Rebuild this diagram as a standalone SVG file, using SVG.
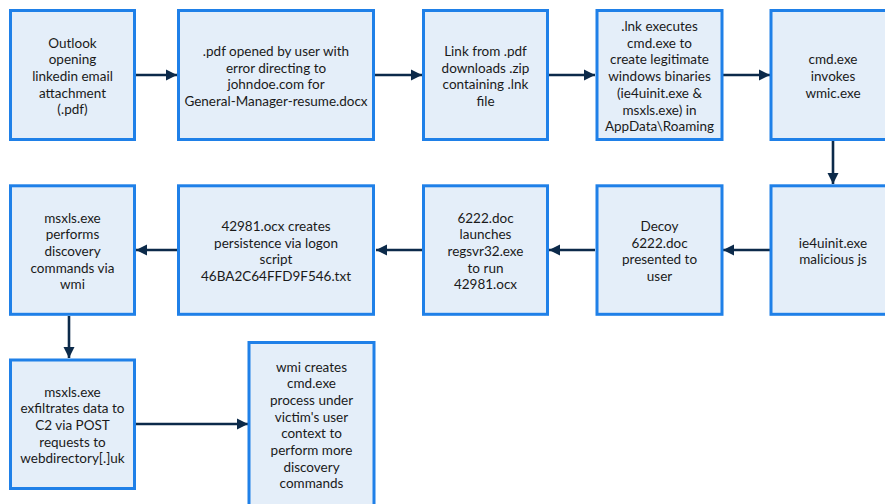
<svg xmlns="http://www.w3.org/2000/svg" width="885" height="504" viewBox="0 0 885 504">
<defs>
<style>
.box{fill:#e4eef9;stroke:#1f80e8;stroke-width:3}
.lbl{font-family:Lato,"Open Sans","Liberation Sans",sans-serif;font-size:13.5px;fill:#1a1a1a;text-anchor:middle}
.con{stroke:#0c2a4a;stroke-width:2.6;fill:none;marker-end:url(#ah)}
</style>
<marker id="ah" markerUnits="userSpaceOnUse" markerWidth="12" markerHeight="12" viewBox="0 0 12 12" refX="11" refY="6" orient="auto">
<path d="M0,0.5 L11,6 L0,11.5 Z" fill="#0c2a4a"/>
</marker>
</defs>
<rect width="885" height="504" fill="#ffffff"/>
<g id="connectors">
<line class="con" x1="136" y1="75" x2="177" y2="75"/>
<line class="con" x1="375" y1="75" x2="422" y2="75"/>
<line class="con" x1="549" y1="75" x2="595" y2="75"/>
<line class="con" x1="723" y1="75" x2="770" y2="75"/>
<line class="con" x1="833" y1="141" x2="833" y2="184"/>
<line class="con" x1="770" y1="250" x2="723" y2="250"/>
<line class="con" x1="595" y1="250" x2="549" y2="250"/>
<line class="con" x1="422" y1="250" x2="376" y2="250"/>
<line class="con" x1="177" y1="250" x2="136" y2="250"/>
<line class="con" x1="69" y1="316" x2="69" y2="358"/>
<line class="con" x1="136" y1="424" x2="248" y2="424"/>
</g>
<g id="n1">
<rect class="box" x="10.5" y="10.5" width="124" height="129"/>
<text class="lbl" x="72.5" y="47.5"><tspan x="72.5">Outlook</tspan><tspan x="72.5" dy="16.7">opening</tspan><tspan x="72.5" dy="16.7">linkedin email</tspan><tspan x="72.5" dy="16.7">attachment</tspan><tspan x="72.5" dy="16.7">(.pdf)</tspan></text>
</g>
<g id="n2">
<rect class="box" x="178.5" y="10.5" width="195" height="129"/>
<text class="lbl" x="276" y="56"><tspan x="276">.pdf opened by user with</tspan><tspan x="276" dy="16.7">error directing to</tspan><tspan x="276" dy="16.7">johndoe.com for</tspan><tspan x="276" dy="16.7">General-Manager-resume.docx</tspan></text>
</g>
<g id="n3">
<rect class="box" x="423.5" y="10.5" width="124" height="129"/>
<text class="lbl" x="485.5" y="56"><tspan x="485.5">Link from .pdf</tspan><tspan x="485.5" dy="16.7">downloads .zip</tspan><tspan x="485.5" dy="16.7">containing .lnk</tspan><tspan x="485.5" dy="16.7">file</tspan></text>
</g>
<g id="n4">
<rect class="box" x="597" y="10.5" width="125" height="129"/>
<text class="lbl" x="659.5" y="31"><tspan x="659.5">.lnk executes</tspan><tspan x="659.5" dy="16.7">cmd.exe to</tspan><tspan x="659.5" dy="16.7">create legitimate</tspan><tspan x="659.5" dy="16.7">windows binaries</tspan><tspan x="659.5" dy="16.7">(ie4uinit.exe &amp;</tspan><tspan x="659.5" dy="16.7">msxls.exe) in</tspan><tspan x="659.5" dy="16.7">AppData\Roaming</tspan></text>
</g>
<g id="n5">
<rect class="box" x="771" y="10.5" width="125" height="129"/>
<text class="lbl" x="833" y="64.3"><tspan x="833">cmd.exe</tspan><tspan x="833" dy="16.7">invokes</tspan><tspan x="833" dy="16.7">wmic.exe</tspan></text>
</g>
<g id="n6">
<rect class="box" x="771" y="185.8" width="125" height="128.5"/>
<text class="lbl" x="833" y="247.5"><tspan x="833">ie4uinit.exe</tspan><tspan x="833" dy="16.7">malicious js</tspan></text>
</g>
<g id="n7">
<rect class="box" x="597" y="185.8" width="125" height="128.5"/>
<text class="lbl" x="659.5" y="230.8"><tspan x="659.5">Decoy</tspan><tspan x="659.5" dy="16.7">6222.doc</tspan><tspan x="659.5" dy="16.7">presented to</tspan><tspan x="659.5" dy="16.7">user</tspan></text>
</g>
<g id="n8">
<rect class="box" x="423.5" y="185.8" width="124" height="128.5"/>
<text class="lbl" x="485.5" y="222.5"><tspan x="485.5">6222.doc</tspan><tspan x="485.5" dy="16.7">launches</tspan><tspan x="485.5" dy="16.7">regsvr32.exe</tspan><tspan x="485.5" dy="16.7">to run</tspan><tspan x="485.5" dy="16.7">42981.ocx</tspan></text>
</g>
<g id="n9">
<rect class="box" x="178.5" y="185.8" width="195" height="128.5"/>
<text class="lbl" x="276" y="230.8"><tspan x="276">42981.ocx creates</tspan><tspan x="276" dy="16.7">persistence via logon</tspan><tspan x="276" dy="16.7">script</tspan><tspan x="276" dy="16.7">46BA2C64FFD9F546.txt</tspan></text>
</g>
<g id="n10">
<rect class="box" x="10.5" y="185.8" width="124" height="128.5"/>
<text class="lbl" x="72.5" y="222.5"><tspan x="72.5">msxls.exe</tspan><tspan x="72.5" dy="16.7">performs</tspan><tspan x="72.5" dy="16.7">discovery</tspan><tspan x="72.5" dy="16.7">commands via</tspan><tspan x="72.5" dy="16.7">wmi</tspan></text>
</g>
<g id="n11">
<rect class="box" x="10.5" y="360" width="124" height="128.5"/>
<text class="lbl" x="72.5" y="396.5"><tspan x="72.5">msxls.exe</tspan><tspan x="72.5" dy="16.7">exfiltrates data to</tspan><tspan x="72.5" dy="16.7">C2 via POST</tspan><tspan x="72.5" dy="16.7">requests to</tspan><tspan x="72.5" dy="16.7">webdirectory[.]uk</tspan></text>
</g>
<g id="n12">
<rect class="box" x="249" y="342.5" width="125" height="170"/>
<text class="lbl" x="311.5" y="371.5"><tspan x="311.5">wmi creates</tspan><tspan x="311.5" dy="16.7">cmd.exe</tspan><tspan x="311.5" dy="16.7">process under</tspan><tspan x="311.5" dy="16.7">victim's user</tspan><tspan x="311.5" dy="16.7">context to</tspan><tspan x="311.5" dy="16.7">perform more</tspan><tspan x="311.5" dy="16.7">discovery</tspan><tspan x="311.5" dy="16.7">commands</tspan></text>
</g>
</svg>
